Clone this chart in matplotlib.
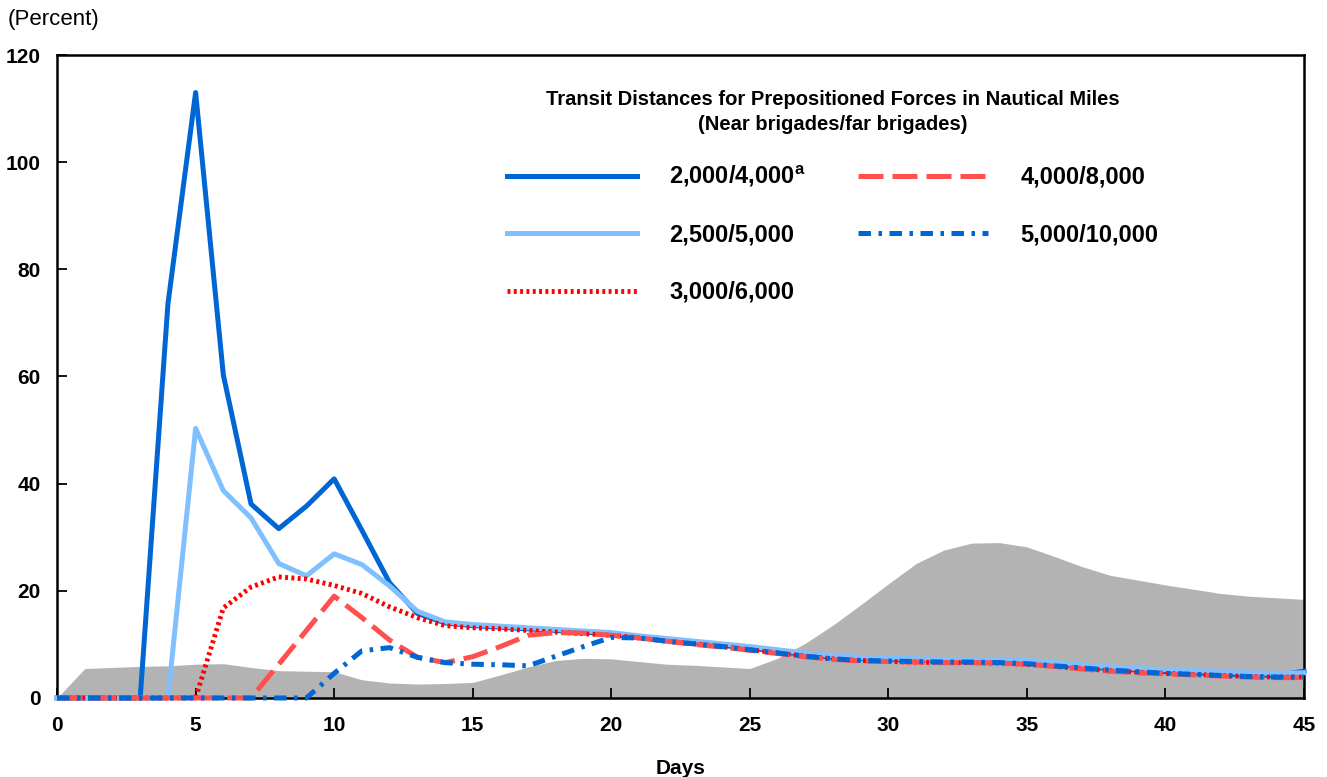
import matplotlib
matplotlib.use("Agg")
from matplotlib import pyplot as plt

plt.rcParams['font.family'] = ['Liberation Sans', 'DejaVu Sans']
plt.rcParams['mathtext.fontset'] = 'custom'
plt.rcParams['mathtext.bf'] = 'Liberation Sans:bold'

# data
days = list(range(0, 46))

near2000 = [0, 0, 0, 0, 73.5, 113, 60.3, 36.2, 31.6, 35.8, 40.9, 31.3, 21.5, 15.8, 14.0,
            13.5, 13.2, 12.9, 12.6, 12.3, 11.9, 11.3, 10.8, 10.3, 9.8, 9.3, 8.7, 8.1, 7.6,
            7.4, 7.2, 7.1, 7.0, 7.0, 6.9, 6.7, 6.3, 5.9, 5.5, 5.2, 4.9, 4.7, 4.5, 4.3, 4.2, 5.0]
near2500 = [0, 0, 0, 0, 0, 50.3, 38.7, 33.6, 25.1, 22.8, 26.9, 24.9, 20.9, 16.2, 14.2,
            13.7, 13.4, 13.1, 12.8, 12.5, 12.2, 11.6, 11.1, 10.6, 10.1, 9.6, 9.0, 8.4, 7.9,
            7.6, 7.5, 7.3, 7.2, 7.2, 7.1, 7.0, 6.6, 6.2, 5.8, 5.5, 5.3, 5.1, 4.9, 4.7, 4.6, 4.7]
near3000 = [0, 0, 0, 0, 0, 0, 16.8, 20.7, 22.6, 22.2, 21.0, 19.5, 17.0, 15.0, 13.5,
            13.1, 12.9, 12.6, 12.3, 12.0, 11.7, 11.2, 10.6, 10.1, 9.6, 9.0, 8.4, 7.8, 7.3,
            7.0, 6.8, 6.7, 6.6, 6.6, 6.5, 6.3, 5.9, 5.5, 5.1, 4.8, 4.6, 4.4, 4.2, 4.0, 3.9, 3.9]
near4000 = [0, 0, 0, 0, 0, 0, 0, 0, 6.3, 12.6, 19.0, 15.0, 10.8, 7.6, 6.6,
            7.7, 9.6, 11.7, 12.2, 12.1, 11.7, 11.2, 10.6, 10.0, 9.5, 8.9, 8.3, 7.7, 7.2,
            6.9, 6.8, 6.7, 6.6, 6.6, 6.5, 6.3, 5.9, 5.4, 5.0, 4.7, 4.5, 4.3, 4.1, 3.9, 3.8, 3.8]
near5000 = [0, 0, 0, 0, 0, 0, 0, 0, 0, 0, 4.6, 8.8, 9.4, 7.6, 6.6,
            6.3, 6.2, 6.0, 7.8, 9.6, 11.3, 11.2, 10.6, 10.1, 9.6, 9.0, 8.4, 7.8, 7.3,
            7.0, 6.9, 6.8, 6.7, 6.7, 6.6, 6.4, 6.0, 5.6, 5.2, 4.9, 4.6, 4.4, 4.2, 4.0, 3.9, 3.9]
shaded = [0, 5.5, 5.7, 5.9, 6.0, 6.3, 6.4, 5.7, 5.1, 5.0, 4.9, 3.4, 2.8, 2.6, 2.7,
          2.9, 4.3, 5.8, 7.0, 7.4, 7.3, 6.8, 6.3, 6.1, 5.8, 5.5, 7.4, 10.2, 13.6, 17.4,
          21.3, 25.1, 27.6, 28.9, 29.0, 28.2, 26.4, 24.5, 22.9, 22.0, 21.1, 20.3, 19.5,
          19.0, 18.7, 18.4]

labels = ["2,000/4,000$^{\\mathbf{a}}$", "2,500/5,000", "3,000/6,000", "4,000/8,000", "5,000/10,000"]

dark = "#0066d4"
light = "#80c0ff"

fig = plt.figure(figsize=(13.27, 7.77), dpi=100)
ax = fig.add_axes([0.043, 0.1017, 0.9397, 0.8275])

ax.fill_between(days, 0, shaded, color="#b3b3b3", linewidth=0, zorder=1)

ax.plot(days, near2000, color=dark, lw=3.6, label=labels[0], zorder=3, clip_on=False)
ax.plot(days, near2500, color=light, lw=3.6, label=labels[1], zorder=4, clip_on=False)
ax.plot(days, near3000, color="#ff0000", lw=3.5, linestyle=(0, (0.6, 0.7)),
        label=labels[2], zorder=5, clip_on=False)
ax.plot(days, near4000, color="#ff4f4f", lw=3.6, linestyle=(0, (5, 1.8)),
        label=labels[3], zorder=6, clip_on=False)
ax.plot(days, near5000, color=dark, lw=3.6, linestyle=(0, (2.5, 1.5, 0.7, 1.5)),
        label=labels[4], zorder=7, clip_on=False)

ax.set_xlim(0, 45)
ax.set_ylim(0, 120)
ax.set_xticks(range(0, 46, 5))
ax.set_yticks(range(0, 121, 20))
ax.tick_params(direction="in", length=7, width=1.3, labelsize=15, pad=13)
ax.tick_params(axis="y", pad=12)
for lab in ax.get_xticklabels() + ax.get_yticklabels():
    lab.set_fontweight("bold")
for sp in ax.spines.values():
    sp.set_linewidth(1.8)

ax.set_xlabel("Days", fontsize=15, fontweight="bold", labelpad=17)
fig.text(0.006, 0.975, "(Percent)", fontsize=16, va="center", ha="left")

leg = ax.legend(ncol=2, frameon=False, loc="upper left", bbox_to_anchor=(0.3534, 0.961),
                title="Transit Distances for Prepositioned Forces in Nautical Miles\n(Near brigades/far brigades)",
                title_fontproperties={"weight": "bold", "size": 14.5},
                prop={"weight": "bold", "size": 17},
                handlelength=5.5, handletextpad=1.35, labelspacing=1.45,
                columnspacing=2.25, borderaxespad=0, alignment="center")
leg.get_title().set_multialignment("center")
leg.get_title().set_linespacing(1.45)
leg._legend_box.sep = 21

fig.savefig("out.png", dpi=100)
